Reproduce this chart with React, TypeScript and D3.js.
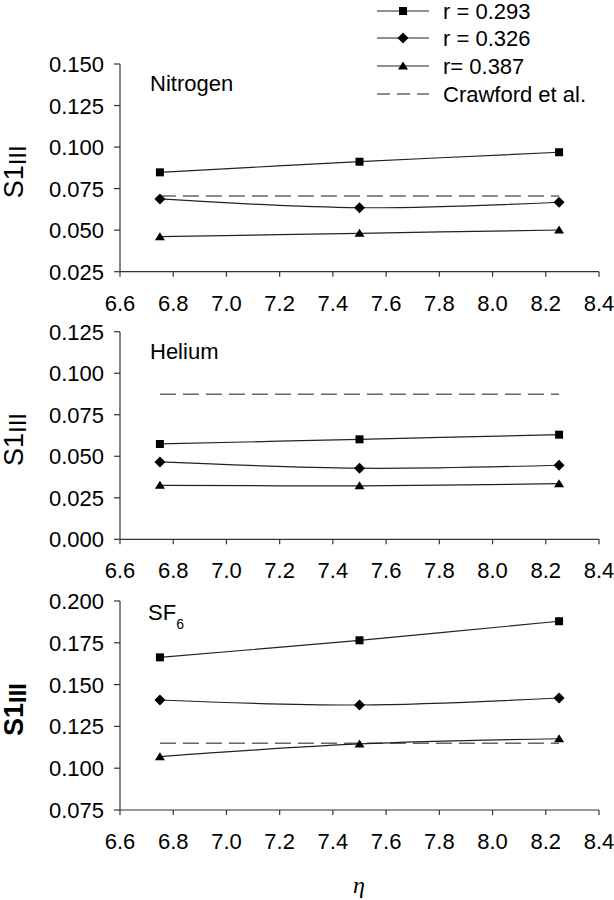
import React from "react";
import * as d3 from "d3";

const etaValues = [6.75, 7.5, 8.25];
const xTicks = [6.6, 6.8, 7.0, 7.2, 7.4, 7.6, 7.8, 8.0, 8.2, 8.4];
const seriesNames = ["r = 0.293", "r = 0.326", "r= 0.387"];
const refName = "Crawford et al.";

const nitrogenR293 = [0.0848, 0.0912, 0.0969];
const nitrogenR326 = [0.0688, 0.0635, 0.0668];
const nitrogenR387 = [0.0461, 0.0481, 0.0501];
const nitrogenRef = 0.0706;

const heliumR293 = [0.0574, 0.0602, 0.063];
const heliumR326 = [0.0466, 0.0428, 0.0446];
const heliumR387 = [0.0325, 0.0322, 0.0335];
const heliumRef = 0.0873;

const sf6R293 = [0.1663, 0.1765, 0.1879];
const sf6R326 = [0.1408, 0.1378, 0.142];
const sf6R387 = [0.1069, 0.1145, 0.1176];
const sf6Ref = 0.1149;

const nitrogenTicks = [0.025, 0.05, 0.075, 0.1, 0.125, 0.15];
const heliumTicks = [0.0, 0.025, 0.05, 0.075, 0.1, 0.125];
const sf6Ticks = [0.075, 0.1, 0.125, 0.15, 0.175, 0.2];

const FONT = "'Liberation Sans', Arial, sans-serif";

type PanelDef = {
  title: string;
  sub?: string;
  series: number[][];
  ref: number;
  ticks: number[];
  top: number;
  bottom: number;
  bold: boolean;
};

const panels: PanelDef[] = [
  { title: "Nitrogen", series: [nitrogenR293, nitrogenR326, nitrogenR387], ref: nitrogenRef, ticks: nitrogenTicks, top: 64, bottom: 271.7, bold: false },
  { title: "Helium", series: [heliumR293, heliumR326, heliumR387], ref: heliumRef, ticks: heliumTicks, top: 331.7, bottom: 539.3, bold: false },
  { title: "SF", sub: "6", series: [sf6R293, sf6R326, sf6R387], ref: sf6Ref, ticks: sf6Ticks, top: 601, bottom: 810, bold: true },
];

const x = d3.scaleLinear().domain([6.6, 8.4]).range([120, 599]);

function Marker({ kind, cx, cy }: { kind: number; cx: number; cy: number }) {
  if (kind === 0) return <rect x={cx - 4} y={cy - 4} width={8} height={8} fill="#000" />;
  if (kind === 1)
    return <path d={`M${cx},${cy - 5.5}L${cx + 5.5},${cy}L${cx},${cy + 5.5}L${cx - 5.5},${cy}Z`} fill="#000" />;
  return <path d={`M${cx},${cy - 4.5}L${cx + 5},${cy + 3.5}L${cx - 5},${cy + 3.5}Z`} fill="#000" />;
}

function Panel({ p }: { p: PanelDef }) {
  const y = d3
    .scaleLinear()
    .domain([p.ticks[0], p.ticks[p.ticks.length - 1]])
    .range([p.bottom, p.top]);
  const line = d3
    .line<number>()
    .x((_, i) => x(etaValues[i]))
    .y((v) => y(v))
    .curve(d3.curveCatmullRom.alpha(0.5));
  const mid = (p.top + p.bottom) / 2;
  return (
    <g>
      <line x1={120} x2={120} y1={p.top} y2={p.bottom} stroke="#333" strokeWidth={1.2} />
      <line x1={120} x2={599} y1={p.bottom} y2={p.bottom} stroke="#333" strokeWidth={1.2} />
      {p.ticks.map((t) => (
        <g key={t}>
          <line x1={114} x2={120} y1={y(t)} y2={y(t)} stroke="#333" strokeWidth={1.2} />
          <text x={104} y={y(t) + 8} textAnchor="end" fontSize={22} fontFamily={FONT} fill="#000">
            {t.toFixed(3)}
          </text>
        </g>
      ))}
      {xTicks.map((t) => (
        <g key={t}>
          <line x1={x(t)} x2={x(t)} y1={p.bottom} y2={p.bottom + 5} stroke="#333" strokeWidth={1.2} />
          <text x={x(t)} y={p.bottom + 39} textAnchor="middle" fontSize={22} fontFamily={FONT} fill="#000">
            {t.toFixed(1)}
          </text>
        </g>
      ))}
      <text
        transform={`translate(23,${mid + 4}) rotate(-90)`}
        textAnchor="middle"
        fontFamily={FONT}
        fontWeight={p.bold ? "bold" : "normal"}
        fill="#000"
      >
        <tspan fontSize={27}>S1</tspan>
        <tspan fontSize={24} dy={3}>III</tspan>
      </text>
      <text x={p.sub ? 148 : 150} y={p.top + (p.sub ? 19 : 27)} fontSize={22} fontFamily={FONT} fill="#000">
        {p.title}
        {p.sub && (
          <tspan fontSize={14} dy={9}>
            {p.sub}
          </tspan>
        )}
      </text>
      <line
        x1={x(etaValues[0])}
        x2={x(etaValues[etaValues.length - 1])}
        y1={y(p.ref)}
        y2={y(p.ref)}
        stroke="#666"
        strokeWidth={1.5}
        strokeDasharray="16,7"
      />
      {p.series.map((s, k) => (
        <g key={k}>
          <path d={line(s) || ""} fill="none" stroke="#222" strokeWidth={1.2} />
          {s.map((v, i) => (
            <Marker key={i} kind={k} cx={x(etaValues[i])} cy={y(v)} />
          ))}
        </g>
      ))}
    </g>
  );
}

export default function App() {
  const legendY = [11, 38, 66, 94];
  return (
    <svg width={614} height={900} style={{ position: "absolute", left: 0, top: 0, background: "#fff" }}>
      <rect width={614} height={900} fill="#fff" />
      {panels.map((p, i) => (
        <Panel key={i} p={p} />
      ))}
      {seriesNames.map((n, k) => (
        <g key={n}>
          <line x1={377} x2={429} y1={legendY[k]} y2={legendY[k]} stroke="#222" strokeWidth={1.2} />
          <Marker kind={k} cx={403} cy={legendY[k]} />
          <text x={443} y={legendY[k] + 8} fontSize={22} fontFamily={FONT} fill="#000">
            {n}
          </text>
        </g>
      ))}
      <line x1={377} x2={429} y1={legendY[3]} y2={legendY[3]} stroke="#666" strokeWidth={1.5} strokeDasharray="13,7" />
      <text x={443} y={legendY[3] + 8} fontSize={22} fontFamily={FONT} fill="#000">
        {refName}
      </text>
      <text x={359} y={893} textAnchor="middle" fontSize={24} fontStyle="italic" fontFamily="'Liberation Serif', 'Times New Roman', serif" fill="#000">
        η
      </text>
    </svg>
  );
}
